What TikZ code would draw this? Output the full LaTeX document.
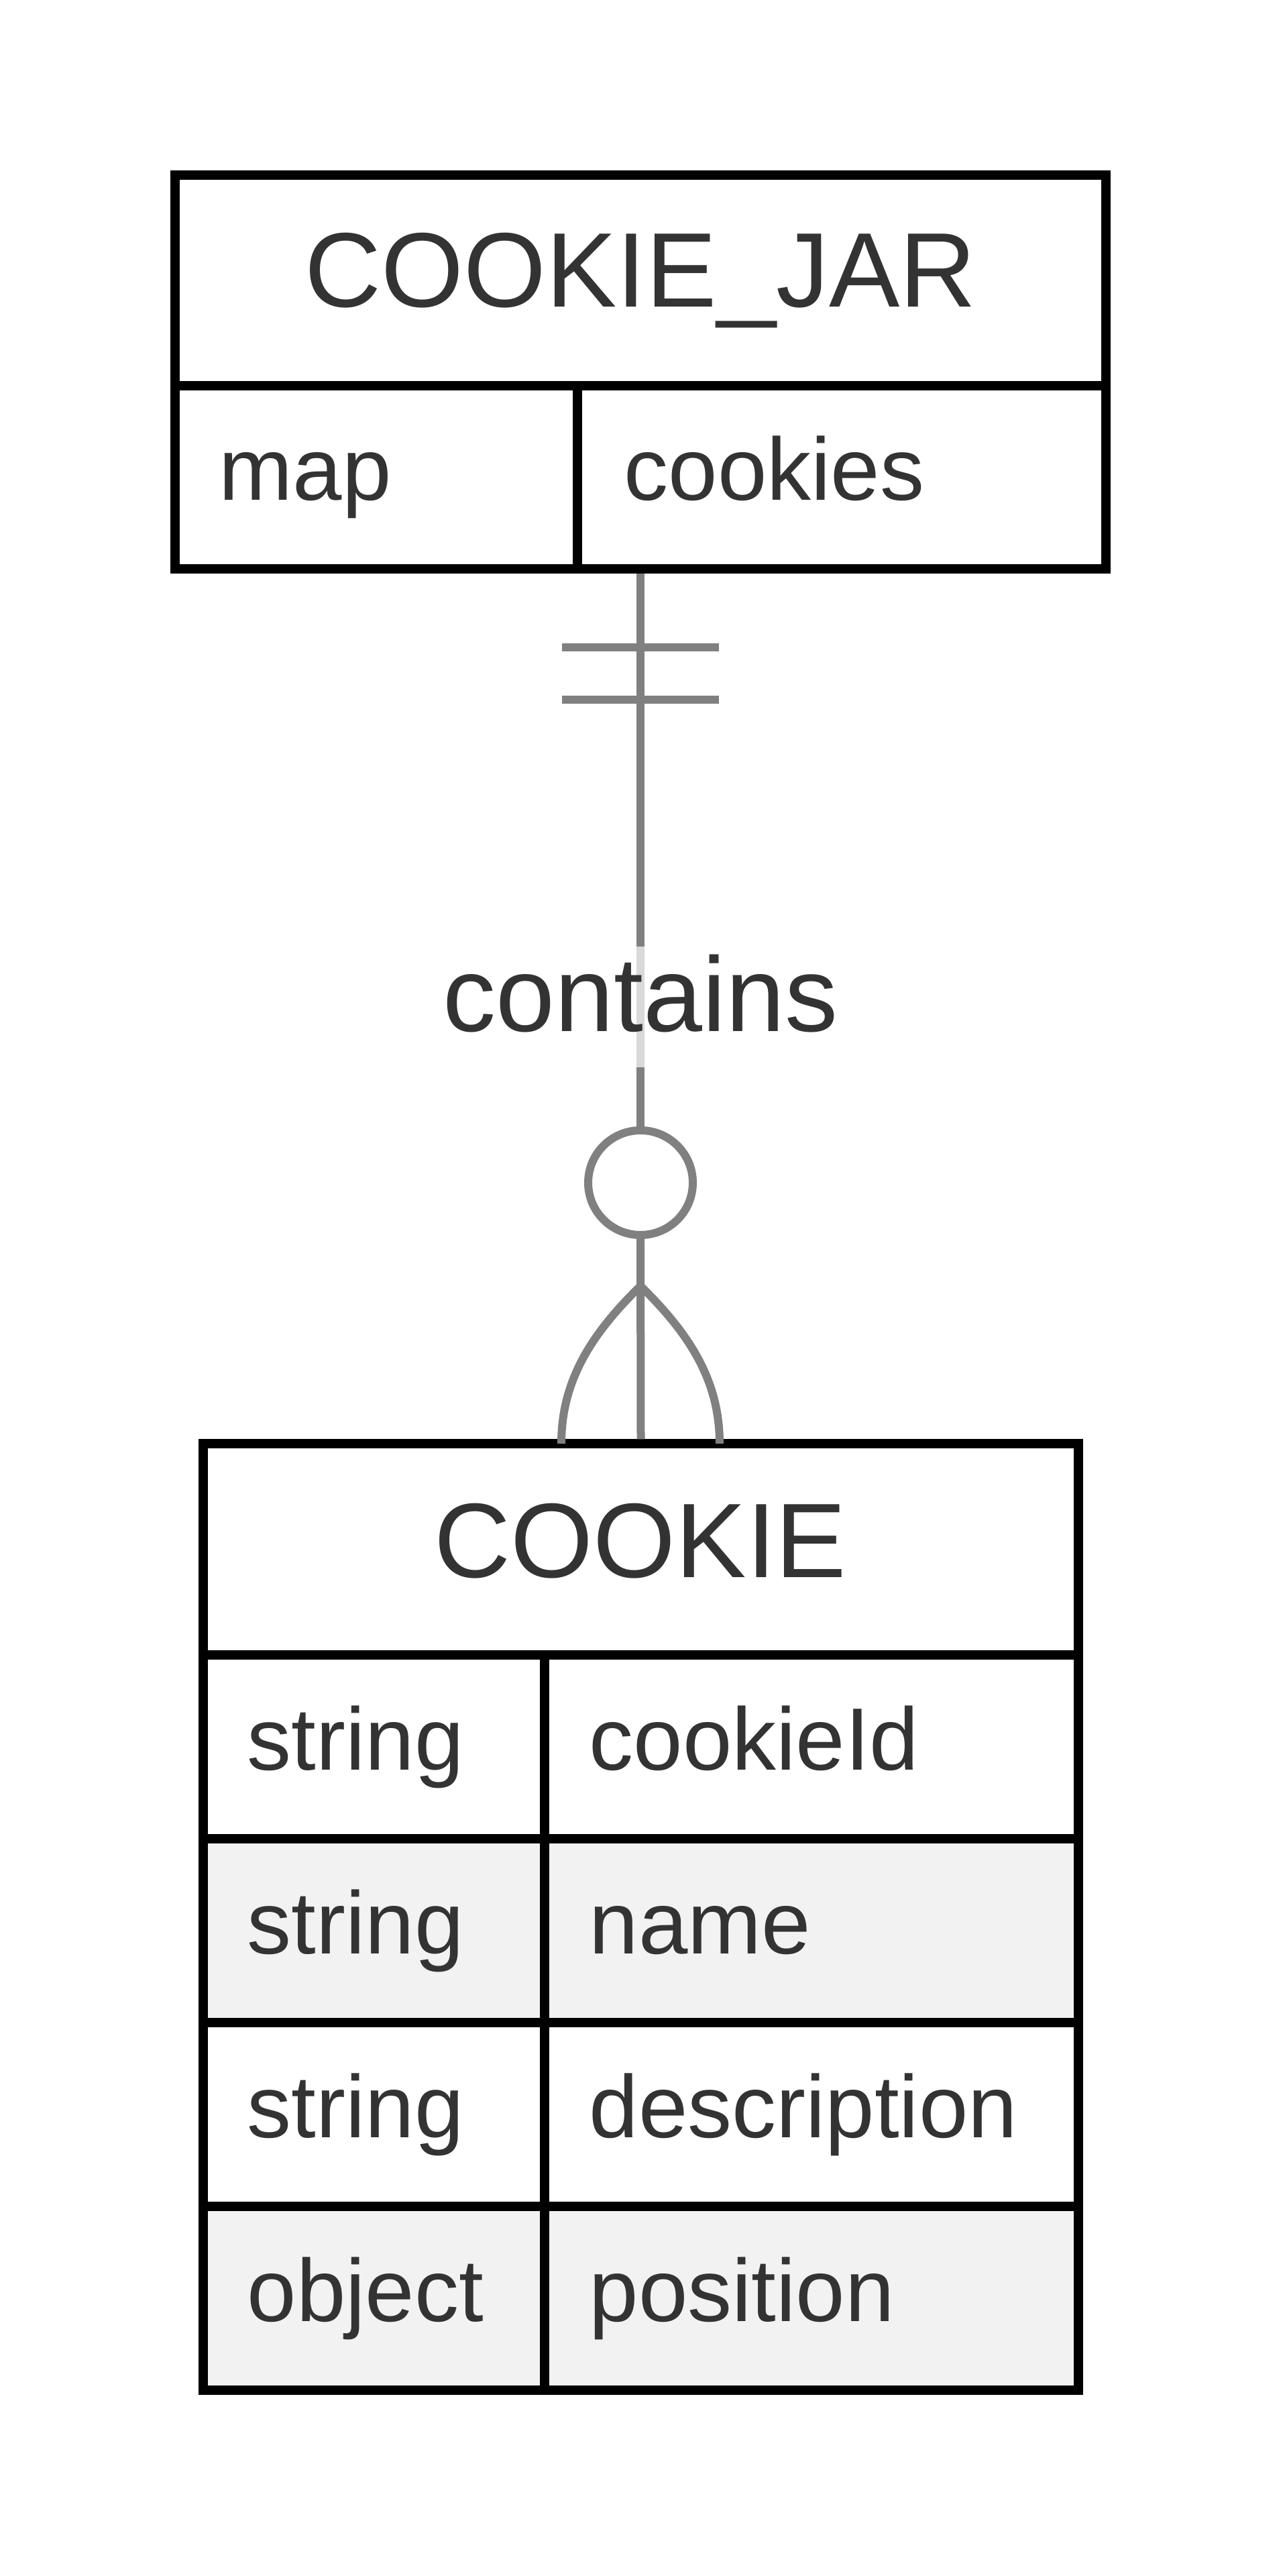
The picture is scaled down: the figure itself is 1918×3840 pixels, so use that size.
\documentclass[tikz,border=0pt]{standalone}
\usepackage{fontspec}
\setmainfont{Liberation Sans}
\definecolor{txt}{HTML}{333333}
\definecolor{conn}{HTML}{808080}
\definecolor{rowalt}{HTML}{F2F2F2}
\begin{document}
\begin{tikzpicture}[x=0.25pt,y=-0.25pt,
  cell/.style={draw=black, line width=3.3pt, rectangle, inner sep=0pt, fill=white},
  altcell/.style={cell, fill=rowalt},
  frame/.style={draw=black, line width=3.3pt, rectangle, inner sep=0pt},
  titletext/.style={text=txt, font=\fontsize{39.5}{47}\selectfont, anchor=base, inner sep=0pt},
  attr/.style={text=txt, font=\fontsize{33}{40}\selectfont, anchor=base west, inner sep=0pt},
  rel/.style={draw=conn, line width=3pt}]
\useasboundingbox (0,0) rectangle (1918,3840);

% ---------- COOKIE_JAR ----------
\node[cell, minimum width=347pt, minimum height=78.5pt] (jarHead) at (955,418) {};
\node[cell, minimum width=150pt, minimum height=68.25pt] (jarT1) at (561,711.5) {};
\node[cell, minimum width=197pt, minimum height=68.25pt] (jarN1) at (1255,711.5) {};
\node[frame, minimum width=347pt, minimum height=146.75pt] (jar) at (955,554.5) {};
\node[titletext] (jarTitle) at (955,458) {COOKIE\_JAR};
\node[attr] (jarT1txt) at (326,745) {map};
\node[attr] (jarN1txt) at (930,745) {cookies};

% ---------- COOKIE ----------
\node[cell, minimum width=326.25pt, minimum height=78.75pt] (ckHead) at (955.5,2309.5) {};
\node[cell, minimum width=127.25pt, minimum height=68.5pt] (ckT1) at (557.5,2604) {};
\node[cell, minimum width=199pt, minimum height=68.5pt] (ckN1) at (1210,2604) {};
\node[altcell, minimum width=127.25pt, minimum height=68.5pt] (ckT2) at (557.5,2878) {};
\node[altcell, minimum width=199pt, minimum height=68.5pt] (ckN2) at (1210,2878) {};
\node[cell, minimum width=127.25pt, minimum height=68.5pt] (ckT3) at (557.5,3152) {};
\node[cell, minimum width=199pt, minimum height=68.5pt] (ckN3) at (1210,3152) {};
\node[altcell, minimum width=127.25pt, minimum height=68.5pt] (ckT4) at (557.5,3426) {};
\node[altcell, minimum width=199pt, minimum height=68.5pt] (ckN4) at (1210,3426) {};
\node[frame, minimum width=326.25pt, minimum height=352.75pt] (ck) at (955.5,2857.5) {};
\node[titletext] (ckTitle) at (955,2351) {COOKIE};
\node[attr] (ckT1txt) at (368,2638) {string};
\node[attr] (ckN1txt) at (878,2638) {cookieId};
\node[attr] (ckT2txt) at (368,2912) {string};
\node[attr] (ckN2txt) at (878,2912) {name};
\node[attr] (ckT3txt) at (368,3186) {string};
\node[attr] (ckN3txt) at (878,3186) {description};
\node[attr] (ckT4txt) at (368,3460) {object};
\node[attr] (ckN4txt) at (878,3460) {position};

% ---------- relationship ----------
\node[circle, draw=conn, line width=3pt, fill=white, inner sep=0pt, minimum size=39pt] (zero) at (955,1763) {};
\coordinate (apex) at (955,1917);
\draw[rel] (jar.south) -- (zero.north);
\draw[rel] (zero.south) -- (ck.north);
% exactly-one bars
\draw[rel] (838,965) -- (1072,965);
\draw[rel] (838,1043) -- (1072,1043);
% crow's foot
\draw[rel] (apex) .. controls (880,1990) and (837,2060) .. (837,2152);
\draw[rel] (apex) .. controls (1030,1990) and (1073,2060) .. (1073,2152);
% label
\node[fill=white, fill opacity=0.7, text opacity=1, text=txt,
      font=\fontsize{39.5}{47}\selectfont, anchor=base, inner sep=0pt,
      text height=31.5pt, text depth=13.5pt] (lbl) at (955,1537) {contains};
\end{tikzpicture}
\end{document}
